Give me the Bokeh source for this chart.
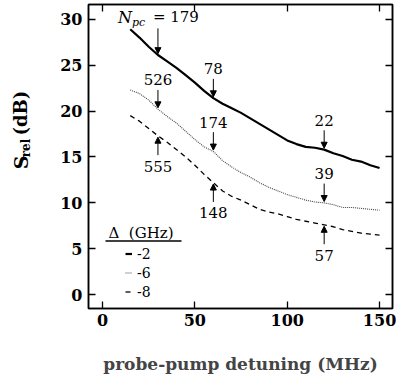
import math
import numpy as np
from bokeh.plotting import figure
from bokeh.layouts import row
from bokeh.core.properties import value
from bokeh.models import (Range1d, LinearAxis, FixedTicker, Label, Arrow, NormalHead,
                          Legend, LegendItem, BoxAnnotation)
from bokeh.embed import file_html
from bokeh.resources import INLINE

# ---------------- data ----------------
x_mhz = [15, 20, 25, 30, 35, 40, 45, 50, 55, 60, 65, 70, 75, 80, 85, 90, 95,
         100, 105, 110, 115, 120, 125, 130, 135, 140, 145, 150]
s_delta_m2 = [28.9, 28.0, 27.0, 26.1, 25.4, 24.7, 23.9, 23.1, 22.2, 21.4, 20.8, 20.3,
              19.8, 19.2, 18.6, 18.0, 17.4, 16.8, 16.4, 16.1, 16.0, 15.8, 15.4, 15.1,
              14.7, 14.5, 14.1, 13.8]
s_delta_m6 = [22.3, 21.9, 21.2, 20.2, 19.4, 18.7, 17.8, 16.9, 16.1, 15.6, 14.6, 13.9,
              13.3, 12.8, 12.2, 11.7, 11.3, 10.9, 10.6, 10.3, 10.1, 10.0, 9.8, 9.5,
              9.5, 9.4, 9.3, 9.2]
s_delta_m8 = [19.5, 18.9, 18.1, 17.3, 16.6, 15.8, 15.0, 14.1, 13.1, 12.2, 11.3, 10.7,
              10.3, 9.8, 9.3, 9.0, 8.8, 8.5, 8.2, 8.0, 7.8, 7.6, 7.4, 7.1,
              6.9, 6.7, 6.6, 6.5]
delta_labels = ["-2", "-6", "-8"]
marker_x = [30, 60, 120]
npc_m2 = ["179", "78", "22"]
npc_m6 = ["526", "174", "39"]
npc_m8 = ["555", "148", "57"]
x_ticks = [0, 50, 100, 150]
y_ticks = [0, 5, 10, 15, 20, 25, 30]

SERIF = "DejaVu Serif"
H = 378
LEFT_W = 40

# ---------------- main plot ----------------
p = figure(width=396 - LEFT_W, height=H, output_backend="svg", toolbar_location=None,
           x_range=Range1d(-7.6, 157), y_range=Range1d(-1.5, 31.6),
           min_border_left=88 - LEFT_W, min_border_right=4, min_border_top=4,
           min_border_bottom=70,
           background_fill_color="white", border_fill_color="white")
p.xgrid.visible = False
p.ygrid.visible = False
p.outline_line_color = "black"
p.outline_line_width = 1.5

def style_axis(ax, show_labels):
    ax.axis_line_color = "black"
    ax.axis_line_width = 1.5
    ax.major_tick_in = 7
    ax.major_tick_out = 0
    ax.major_tick_line_width = 1.3
    ax.major_tick_line_color = "black"
    ax.minor_tick_line_color = None
    if show_labels:
        ax.major_label_text_font = SERIF
        ax.major_label_text_font_size = "16px"
        ax.major_label_text_font_style = "bold"
        ax.major_label_text_color = "black"
    else:
        ax.major_label_text_font_size = "1px"
        ax.major_label_text_color = None
        ax.major_label_standoff = 0

p.xaxis.ticker = FixedTicker(ticks=x_ticks)
p.yaxis.ticker = FixedTicker(ticks=y_ticks)
style_axis(p.xaxis[0], True)
style_axis(p.yaxis[0], True)
p.xaxis.major_label_standoff = 5
p.yaxis.major_label_standoff = 6
p.xaxis.axis_label = "probe-pump detuning (MHz)"
p.xaxis.axis_label_text_font = SERIF
p.xaxis.axis_label_text_font_size = "17px"
p.xaxis.axis_label_text_font_style = "bold"
p.xaxis.axis_label_standoff = 25

top_ax = LinearAxis(ticker=FixedTicker(ticks=x_ticks))
style_axis(top_ax, False)
p.add_layout(top_ax, "above")
right_ax = LinearAxis(ticker=FixedTicker(ticks=y_ticks))
style_axis(right_ax, False)
p.add_layout(right_ax, "right")

# ---------------- curves ----------------
r2 = p.line(x_mhz, s_delta_m2, line_color="black", line_width=2.2)
r6 = p.line(x_mhz, s_delta_m6, line_color="#444444", line_width=1.1, line_dash="1 1")
r8 = p.line(x_mhz, s_delta_m8, line_color="black", line_width=1.3, line_dash="5 4")

# ---------------- N_pc annotations ----------------
def add_marker(xv, yv, text, above, tail=2.1, lab=3.2):
    sgn = 1 if above else -1
    p.add_layout(Arrow(end=NormalHead(size=6, fill_color="black", line_color="black", line_width=1),
                       x_start=xv, y_start=yv + sgn * tail, x_end=xv, y_end=yv + sgn * 0.15,
                       line_color="black", line_width=1))
    if text is not None:
        p.add_layout(Label(x=xv, y=yv + sgn * lab, text=text, text_align="center",
                           text_baseline="middle", text_font=SERIF, text_font_size="15px",
                           text_color="black"))

for i, xv in enumerate(marker_x):
    y2 = float(np.interp(xv, x_mhz, s_delta_m2))
    y6 = float(np.interp(xv, x_mhz, s_delta_m6))
    y8 = float(np.interp(xv, x_mhz, s_delta_m8))
    if i == 0:
        add_marker(xv, y2, None, True, tail=2.9)
        yl = y2 + 4.1
        p.add_layout(Label(x=xv, y=yl, x_offset=-40, text="N", text_align="left",
                           text_baseline="middle", text_font=SERIF, text_font_size="16px",
                           text_font_style="italic", text_color="black"))
        p.add_layout(Label(x=xv, y=yl - 0.55, x_offset=-26, text="pc", text_align="left",
                           text_baseline="middle", text_font=SERIF, text_font_size="11px",
                           text_font_style="italic", text_color="black"))
        p.add_layout(Label(x=xv, y=yl, x_offset=-5, text="= " + npc_m2[i], text_align="left",
                           text_baseline="middle", text_font=SERIF, text_font_size="15px",
                           text_color="black"))
    else:
        add_marker(xv, y2, npc_m2[i], True)
    add_marker(xv, y6, npc_m6[i], True)
    add_marker(xv, y8, npc_m8[i], False, lab=3.3)

# ---------------- legend ----------------
p.add_layout(Label(x=20, y=76, x_units="screen", y_units="screen",
                   text="\u0394\u00a0\u00a0(GHz)",
                   text_align="left", text_baseline="middle", text_font=SERIF,
                   text_font_size="15px", text_color="black"))
p.add_layout(BoxAnnotation(left=17, right=93, bottom=66.8, top=68.2,
                           left_units="screen", right_units="screen",
                           bottom_units="screen", top_units="screen",
                           fill_color="black", fill_alpha=1, line_color=None))
legend = Legend(items=[LegendItem(label=delta_labels[0], renderers=[r2]),
                       LegendItem(label=delta_labels[1], renderers=[r6]),
                       LegendItem(label=delta_labels[2], renderers=[r8])],
                location=(37, 7), orientation="vertical",
                glyph_width=7, glyph_height=19, label_height=19, spacing=0,
                label_standoff=5, padding=0, margin=0,
                label_text_font=SERIF, label_text_font_size="14px",
                label_text_color="black",
                border_line_color=None, background_fill_alpha=0)
p.add_layout(legend)

# ---------------- y-axis title panel (pixel-mapped strip left of the plot) ----------------
lf = figure(width=LEFT_W, height=H, output_backend="svg", toolbar_location=None,
            x_range=Range1d(0, LEFT_W), y_range=Range1d(H, 0),
            x_axis_location=None, y_axis_location=None,
            min_border=0, min_border_left=0, min_border_right=0,
            min_border_top=0, min_border_bottom=0,
            background_fill_color="white", border_fill_color="white")
lf.xgrid.visible = False
lf.ygrid.visible = False
lf.outline_line_color = None
lf.text(x=[20], y=[205], text=["S"], angle=math.pi / 2, text_align="left",
        text_baseline="middle", text_font=value(SERIF), text_font_size="19px",
        text_font_style="bold", text_color="black")
lf.text(x=[25], y=[190], text=["rel"], angle=math.pi / 2, text_align="left",
        text_baseline="middle", text_font=value(SERIF), text_font_size="12px",
        text_font_style="bold", text_color="black")
lf.text(x=[20], y=[163], text=["(dB)"], angle=math.pi / 2, text_align="left",
        text_baseline="middle", text_font=value(SERIF), text_font_size="18px",
        text_font_style="bold", text_color="black")

layout = row(lf, p, spacing=0)
open("out.html", "w").write(file_html(layout, INLINE))
